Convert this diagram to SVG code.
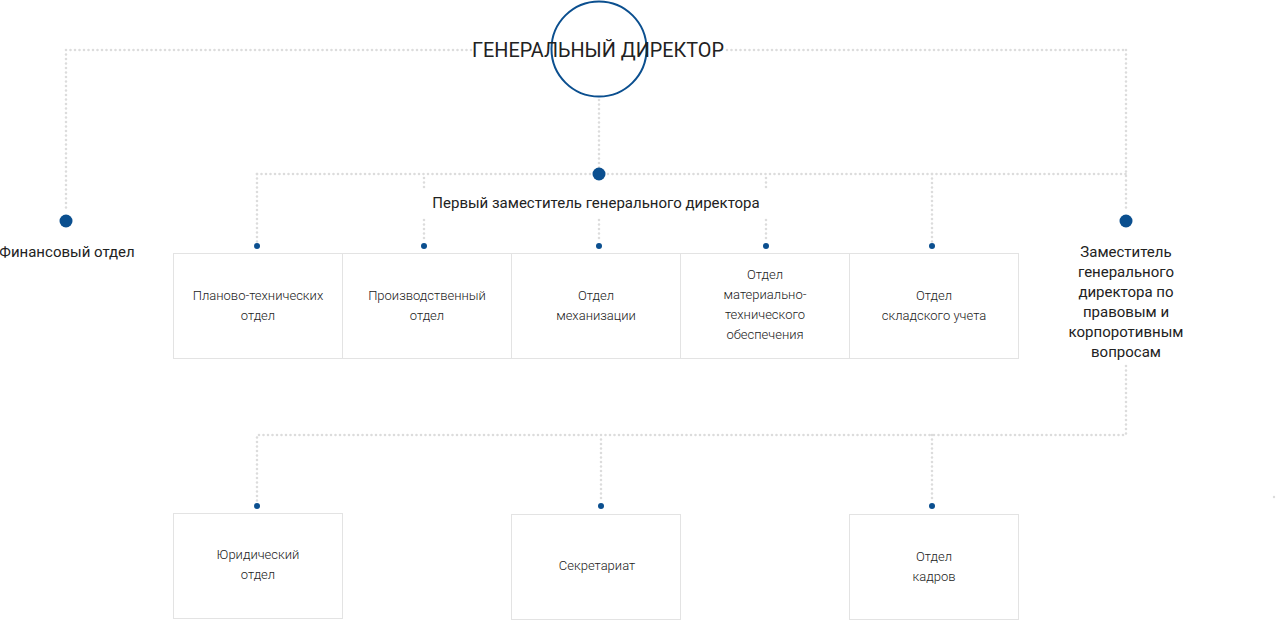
<svg xmlns="http://www.w3.org/2000/svg" width="1277" height="620" viewBox="0 0 1277 620">
<style>
.c{fill:none;stroke:#dcdcdc;stroke-width:2.6;stroke-linecap:round;stroke-dasharray:0 4.5}
.box{fill:#fff;stroke:#e3e3e3;stroke-width:1}
.t{font-family:Roboto,"Liberation Sans",sans-serif;font-size:13px;font-weight:300;fill:#222;text-anchor:middle}
.m{font-family:Roboto,"Liberation Sans",sans-serif;font-size:15px;fill:#222;text-anchor:middle}
.d{fill:#0b4f8f}
</style>
<rect width="1277" height="620" fill="#fff"/>
<g id="connectors">
<path class="c" d="M66 50H472M727 50H1126M66 50V212M1126 50V212"/>
<path class="c" d="M599 100V170"/>
<path class="c" d="M257 174H1126"/>
<path class="c" d="M257 174V242M932 174V242M424 178V188M424 220V242M599 220V242M766 178V188M766 220V242"/>
<path class="c" d="M1126 366V435H257V502M601 435V502M932 435V502"/>
<circle cx="1274" cy="497" r="1.2" fill="#dcdcdc"/>
</g>
<g id="director">
<circle cx="599" cy="49" r="47.5" fill="none" stroke="#0b4f8f" stroke-width="2"/>
<text x="598" y="57" font-family="Roboto,'Liberation Sans',sans-serif" font-size="20.5" fill="#222" text-anchor="middle" textLength="252" lengthAdjust="spacingAndGlyphs">ГЕНЕРАЛЬНЫЙ ДИРЕКТОР</text>
</g>
<g id="finance">
<circle class="d" cx="66" cy="221" r="6.5"/>
<text class="m" x="67" y="257">Финансовый отдел</text>
</g>
<g id="first-deputy">
<circle class="d" cx="599" cy="174" r="6.5"/>
<text class="m" x="596" y="208">Первый заместитель генерального директора</text>
</g>
<g id="deputy-legal">
<circle class="d" cx="1126" cy="221" r="6.5"/>
<text class="m" x="1126" y="257">Заместитель</text>
<text class="m" x="1126" y="277">генерального</text>
<text class="m" x="1126" y="297">директора по</text>
<text class="m" x="1126" y="317">правовым и</text>
<text class="m" x="1126" y="337">корпоротивным</text>
<text class="m" x="1126" y="357">вопросам</text>
</g>
<g id="plan-tech">
<circle class="d" cx="257" cy="246" r="3"/>
<rect class="box" x="173.5" y="253.5" width="169" height="105"/>
<text class="t" x="258" y="300">Планово-технических</text>
<text class="t" x="258" y="320">отдел</text>
</g>
<g id="production">
<circle class="d" cx="424" cy="246" r="3"/>
<rect class="box" x="342.5" y="253.5" width="169" height="105"/>
<text class="t" x="427" y="300">Производственный</text>
<text class="t" x="427" y="320">отдел</text>
</g>
<g id="mechanization">
<circle class="d" cx="599" cy="246" r="3"/>
<rect class="box" x="511.5" y="253.5" width="169" height="105"/>
<text class="t" x="596" y="300">Отдел</text>
<text class="t" x="596" y="320">механизации</text>
</g>
<g id="supply">
<circle class="d" cx="766" cy="246" r="3"/>
<rect class="box" x="680.5" y="253.5" width="169" height="105"/>
<text class="t" x="765" y="279">Отдел</text>
<text class="t" x="765" y="299">материально-</text>
<text class="t" x="765" y="319">технического</text>
<text class="t" x="765" y="339">обеспечения</text>
</g>
<g id="warehouse">
<circle class="d" cx="932" cy="246" r="3"/>
<rect class="box" x="849.5" y="253.5" width="169" height="105"/>
<text class="t" x="934" y="300">Отдел</text>
<text class="t" x="934" y="320">складского учета</text>
</g>
<g id="legal">
<circle class="d" cx="257" cy="506" r="3"/>
<rect class="box" x="173.5" y="513.5" width="169" height="105"/>
<text class="t" x="258" y="559">Юридический</text>
<text class="t" x="258" y="579">отдел</text>
</g>
<g id="secretariat">
<circle class="d" cx="601" cy="506" r="3"/>
<rect class="box" x="511.5" y="514.5" width="169" height="105"/>
<text class="t" x="597" y="570">Секретариат</text>
</g>
<g id="hr">
<circle class="d" cx="932" cy="506" r="3"/>
<rect class="box" x="849.5" y="514.5" width="169" height="105"/>
<text class="t" x="934" y="561">Отдел</text>
<text class="t" x="934" y="581">кадров</text>
</g>
</svg>
